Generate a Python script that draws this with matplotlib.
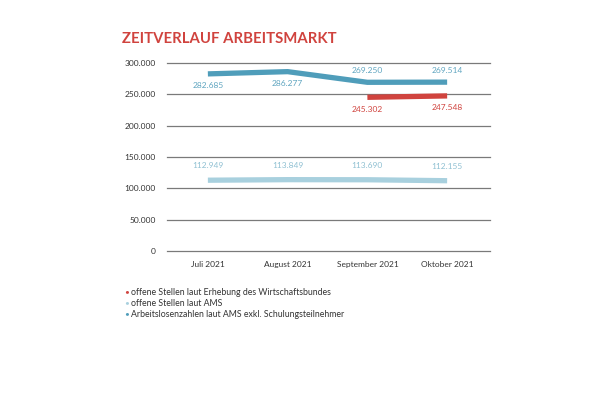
import numpy as np
import matplotlib.pyplot as plt

# データ
MONATE = ["Juli 2021", "August 2021", "September 2021", "Oktober 2021"]
ARBEITSLOSE = [282685, 286277, 269250, 269514]          # Arbeitslosenzahlen laut AMS
OFFENE_AMS = [112949, 113849, 113690, 112155]           # offene Stellen laut AMS
OFFENE_WB_MONATE = ["September 2021", "Oktober 2021"]
OFFENE_WB = [245302, 247548]                             # offene Stellen laut Wirtschaftsbund
Y_TICKS = [0, 50000, 100000, 150000, 200000, 250000, 300000]
LEGENDE = ["offene Stellen laut Erhebung des Wirtschaftsbundes",
           "offene Stellen laut AMS",
           "Arbeitslosenzahlen laut AMS exkl. Schulungsteilnehmer"]

ROT = "#d0433e"
DUNKELBLAU = "#4f9dba"
HELLBLAU = "#a8d0de"
FONT = "Lato"


def fmt(v):
    return f"{v:,}".replace(",", ".")


def main():
    plt.rcParams["font.family"] = [FONT, "DejaVu Sans"]
    fig = plt.figure(figsize=(6.0, 3.99), dpi=100)
    ax = fig.add_axes([0.278, 0.371, 0.539, 0.471])

    x = np.arange(len(MONATE))
    x_wb = np.array([MONATE.index(m) for m in OFFENE_WB_MONATE])

    ax.plot(x, OFFENE_AMS, color=HELLBLAU, lw=3.8, solid_capstyle="butt", zorder=3)
    ax.plot(x, ARBEITSLOSE, color=DUNKELBLAU, lw=3.8, solid_capstyle="butt", zorder=3)
    ax.plot(x_wb, OFFENE_WB, color=ROT, lw=3.8, solid_capstyle="butt", zorder=3)

    # 数値ラベル
    for i, v in enumerate(OFFENE_AMS):
        ax.annotate(fmt(v), (i, v), xytext=(0, 8), textcoords="offset points",
                    ha="center", va="bottom", fontsize=6.0, color="#8fc0d2")
    for i, v in enumerate(ARBEITSLOSE):
        if i < 2:
            off, va = (-6, "top")
        else:
            off, va = (6, "bottom")
        ax.annotate(fmt(v), (i, v), xytext=(0, off), textcoords="offset points",
                    ha="center", va=va, fontsize=6.0, color="#5fa5c0")
    for i, v in zip(x_wb, OFFENE_WB):
        ax.annotate(fmt(v), (i, v), xytext=(0, -6), textcoords="offset points",
                    ha="center", va="top", fontsize=6.0, color=ROT)

    ax.set_xlim(-0.515, 3.54)
    ax.set_ylim(0, 300000)
    ax.set_yticks(Y_TICKS)
    ax.set_yticklabels([fmt(v) for v in Y_TICKS])
    ax.set_xticks(x)
    ax.set_xticklabels(MONATE)
    ax.tick_params(length=0, labelsize=6.0, colors="#333333", pad=8)
    ax.tick_params(axis="x", pad=7)
    ax.grid(axis="y", color="#7a7a7a", lw=0.9)
    for gl in ax.get_ygridlines():
        gl.set_clip_on(False)
    ax.set_axisbelow(True)
    for s in ax.spines.values():
        s.set_visible(False)

    fig.text(0.203, 0.903, "ZEITVERLAUF ARBEITSMARKT", color=ROT,
             fontsize=10.7, fontweight="bold", va="center")

    # 凡例
    farben = [ROT, HELLBLAU, DUNKELBLAU]
    for k, (txt, c) in enumerate(zip(LEGENDE, farben)):
        y = 0.268 - k * 0.0275
        fig.text(0.207, y, "•", color=c, fontsize=6, va="center")
        fig.text(0.219, y, txt, color="#333333", fontsize=6.3, va="center")

    fig.savefig("out.png", dpi=100, facecolor="white")


if __name__ == "__main__":
    main()
